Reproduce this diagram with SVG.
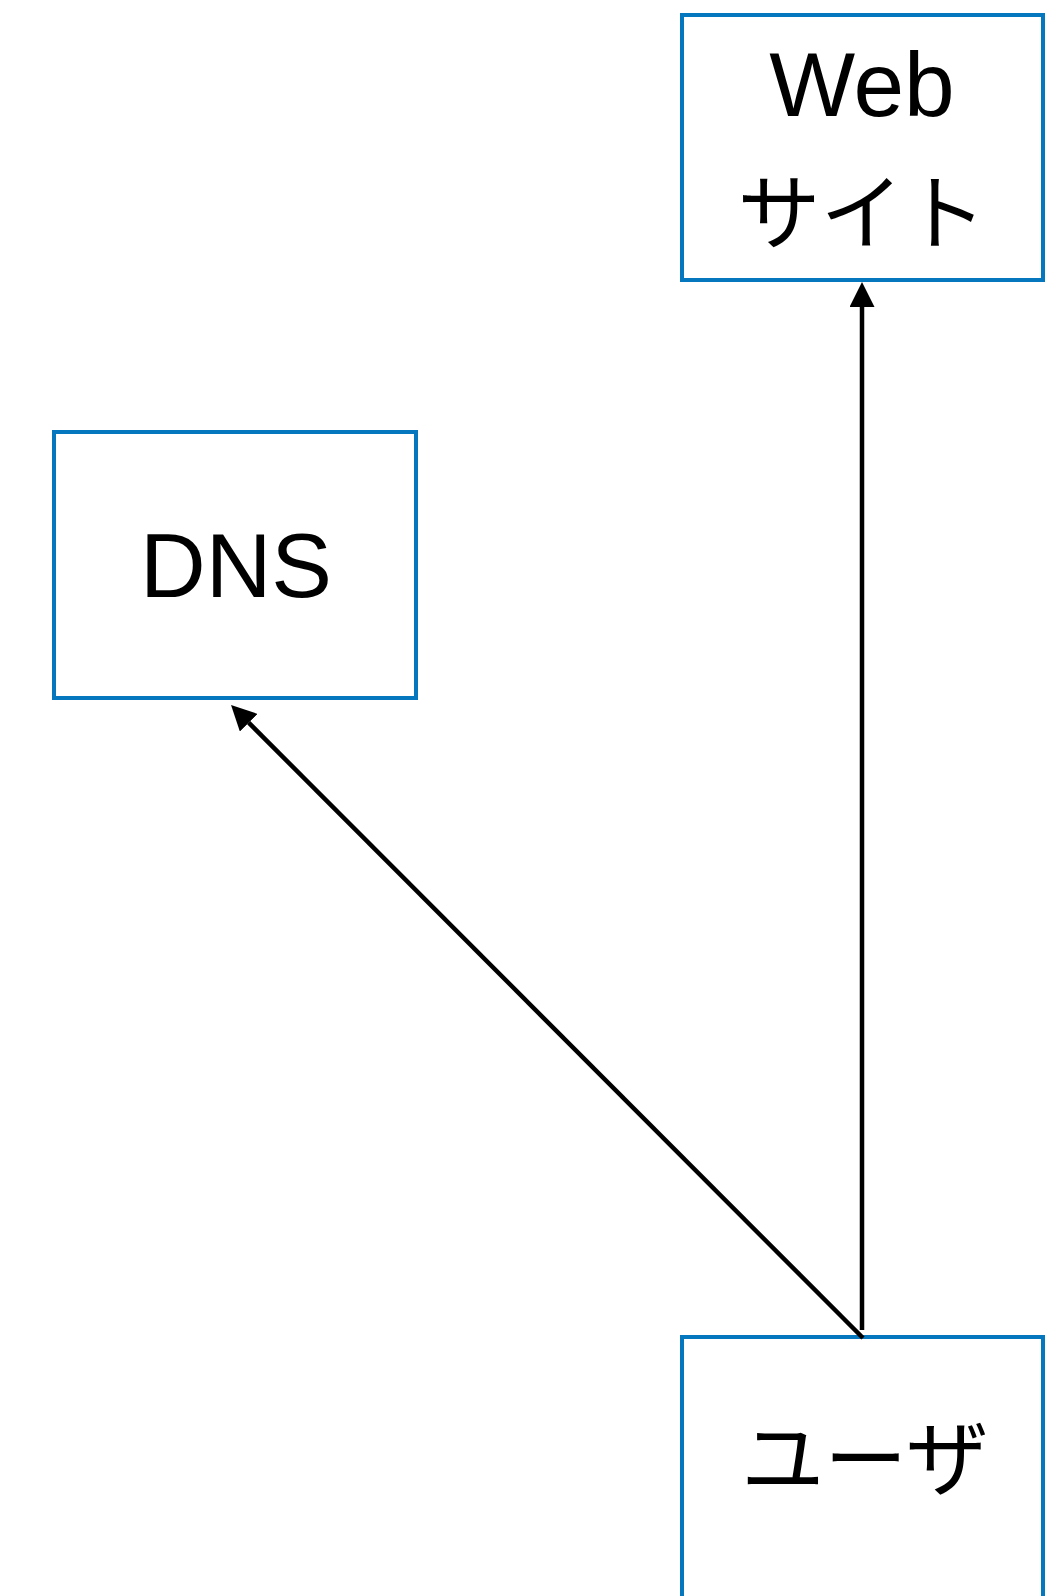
<svg xmlns="http://www.w3.org/2000/svg" width="1055" height="1596" viewBox="0 0 1055 1596">
<style>
.box{fill:#fff;stroke:#0477bf;stroke-width:4}
.lbl{font-family:"Liberation Sans","Noto Sans CJK JP",sans-serif;font-size:91px;fill:#000;text-anchor:middle}
.jp{font-size:83px}
.conn{stroke:#000;stroke-width:4.5;fill:none}
</style>
<defs>
<marker id="ah" viewBox="0 0 25 25" refX="0" refY="12.5" markerWidth="25" markerHeight="25" markerUnits="userSpaceOnUse" orient="auto">
<path d="M0,0 L25,12.5 L0,25 z" fill="#000"/>
</marker>
</defs>
<rect width="1055" height="1596" fill="#fff"/>
<g id="web">
<rect class="box" x="682" y="15" width="361" height="265"/>
<text class="lbl" x="862" y="116">Web</text>
<text class="lbl jp" x="862" y="243">サイト</text>
</g>
<g id="dns">
<rect class="box" x="54" y="432" width="362" height="266"/>
<text class="lbl" x="236" y="597">DNS</text>
</g>
<g id="user">
<rect class="box" x="682" y="1337" width="361" height="300"/>
<text class="lbl jp" x="865" y="1489">ユーザ</text>
</g>
<g id="connectors">
<line class="conn" x1="862" y1="1330" x2="862" y2="307" marker-end="url(#ah)"/>
<line class="conn" x1="863" y1="1338" x2="248.7" y2="722.7" marker-end="url(#ah)"/>
</g>
</svg>
